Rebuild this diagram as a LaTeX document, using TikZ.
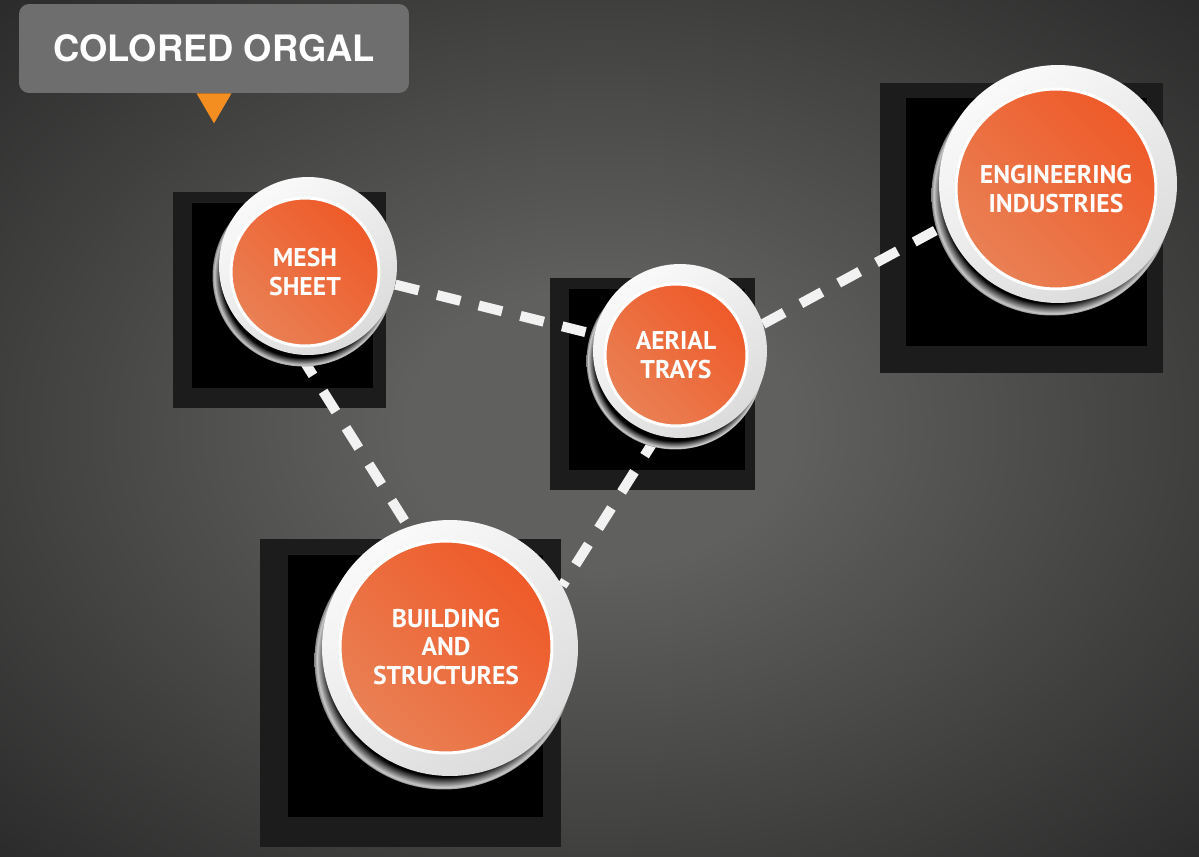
\documentclass[tikz,border=0pt]{standalone}
\usepackage{fontspec}
\newfontfamily\titlefont{TeX Gyre Heros}
\newfontfamily\bubblefont{PT Sans}
\usetikzlibrary{shapes.geometric, positioning}

\definecolor{bgin}{RGB}{96,96,94}
\definecolor{bgout}{RGB}{42,42,42}
\definecolor{tagfill}{RGB}{110,110,110}
\definecolor{tagtip}{RGB}{244,142,32}
\definecolor{boxout}{RGB}{28,28,28}
\definecolor{orangedark}{RGB}{239,90,41}
\definecolor{orangelight}{RGB}{233,128,84}

\pgfdeclareradialshading{bgshade}{\pgfpoint{0bp}{0bp}}{color(0bp)=(bgin); color(8bp)=(bgin); color(36bp)=(bgout); color(50bp)=(bgout)}
\pgfdeclareradialshading{ringshade}{\pgfpoint{0bp}{0bp}}{color(0bp)=(black); color(22.5bp)=(black); color(24.6bp)=(white!80!black); color(25bp)=(gray); color(50bp)=(gray)}

\pgfdeclarelayer{back}
\pgfsetlayers{back,main}

\begin{document}
\begin{tikzpicture}
    [x=0.02cm, y=-0.02cm,
    halo/.style={circle, inner sep=0pt, minimum size=#1, shading=ringshade},
    bubblering/.style={circle, inner sep=0pt, minimum size=#1,
    top color=gray!4, bottom color=gray!28, shading angle=35},
    bubble/.style={circle, inner sep=0pt, minimum size=#1, draw=white,
    line width=1.7pt, top color=orangedark, bottom color=orangelight,
    shading angle=-45, text=white, align=center,
    font=\bubblefont\bfseries\fontsize{14.6}{16.4}\selectfont},
    line/.style={draw=white!95!black, line width=0.2cm,
    dash pattern=on 0.48cm off 0.38cm}]

    \useasboundingbox (0,0) rectangle (1199,856);

    \begin{pgfonlayer}{back}
        \shade[shading=bgshade] (0,0) rectangle (1199,856);
        % mesh sheet
        \fill[boxout] (173,192) rectangle (386,408);
        \fill[black] (192,203) rectangle (373,388);
        % aerial trays
        \fill[boxout] (550,278) rectangle (755,490);
        \fill[black] (569,289) rectangle (745,470);
        % engineering industries
        \fill[boxout] (880,83) rectangle (1163,373);
        \fill[black] (906,98) rectangle (1147,346);
        % building and structures
        \fill[boxout] (260,539) rectangle (561,847);
        \fill[black] (288,555) rectangle (543,817);
    \end{pgfonlayer}

    \node [halo=3.62cm] (mesh_halo) at (303,276) {};
    \node [bubblering=3.56cm] (mesh_ring) at (308,266) {};
    \node [bubble=2.96cm] (mesh) at (305,272) {MESH\\SHEET};

    \node [halo=3.54cm] (aerial_halo) at (675,361) {};
    \node [bubblering=3.48cm] (aerial_ring) at (680,351) {};
    \node [bubble=2.84cm] (aerial) at (676,355) {AERIAL\\TRAYS};

    \node [halo=4.82cm] (engg_halo) at (1052,195) {};
    \node [bubblering=4.76cm] (engg_ring) at (1058,184) {};
    \node [bubble=4cm] (engg) at (1056,189) {ENGINEERING\\INDUSTRIES};

    \node [halo=5.18cm] (bldg_halo) at (444,660) {};
    \node [bubblering=5.12cm] (bldg_ring) at (450,648) {};
    \node [bubble=4.24cm] (bldg) at (446,647) {BUILDING\\AND\\STRUCTURES};

    \begin{pgfonlayer}{back}
    \begin{scope}[every path/.style=line]
        \path (mesh_ring.-12) -- (aerial_ring.169);
        \path (mesh_ring.-95) -- (bldg_ring.109);
        \path (aerial_ring.-105) -- (bldg_ring.29);
        \path (aerial_ring.18) -- (engg_ring.-160);
    \end{scope}
    \end{pgfonlayer}

    \node [fill=tagfill, rounded corners=0.2cm, minimum width=7.8cm,
    minimum height=1.78cm, text=white,
    font=\titlefont\bfseries\fontsize{20.7}{24}\selectfont]
    (title) at (214,48.5) {COLORED ORGAL};
    \fill[tagtip] ([xshift=-0.35cm]title.south) -- ([xshift=0.35cm]title.south)
    -- ([yshift=-0.6cm]title.south) -- cycle;
\end{tikzpicture}
\end{document}
